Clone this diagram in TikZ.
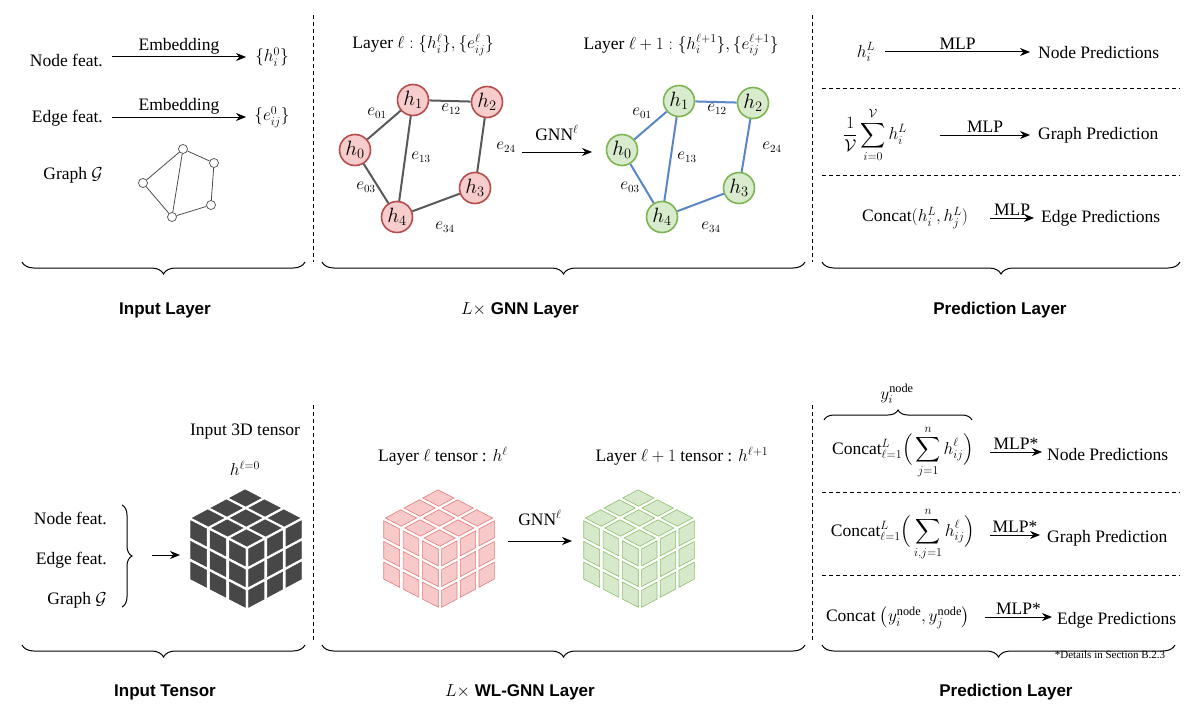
\documentclass[tikz,border=0pt]{standalone}
\usepackage{amsmath,amssymb}
\usepackage{fontspec}
\setmainfont{Liberation Serif}
\setsansfont{Liberation Sans}
\usetikzlibrary{decorations.pathreplacing,arrows.meta}
\definecolor{rfill}{HTML}{F6CCCC}\definecolor{rline}{HTML}{B84C4C}
\definecolor{gfill}{HTML}{D8EBCD}\definecolor{gline}{HTML}{7CB552}
\definecolor{bl}{HTML}{5B86C5}
\definecolor{cred}{HTML}{F8C9C9}\definecolor{credl}{HTML}{E27C7C}
\definecolor{cgr}{HTML}{D6EACB}\definecolor{cgrl}{HTML}{8CBF69}
\newcommand{\mycube}[4]{% x y fill draw
 \begin{scope}[shift={(#1,#2)}]
  \begin{scope}[x={(-19.33pt,10pt)},y={(0pt,-20.67pt)}]
   \foreach \i in {0,1,2}{\foreach \j in {0,1,2}{
    \filldraw[fill=#3,draw=#4,line width=0.6pt] (\i+.09,\j+.09)--(\i+.91,\j+.09)--(\i+.91,\j+.91)--(\i+.09,\j+.91)--cycle;}}
  \end{scope}
  \begin{scope}[x={(18.67pt,10pt)},y={(0pt,-20.67pt)}]
   \foreach \i in {0,1,2}{\foreach \j in {0,1,2}{
    \filldraw[fill=#3,draw=#4,line width=0.6pt] (\i+.09,\j+.09)--(\i+.91,\j+.09)--(\i+.91,\j+.91)--(\i+.09,\j+.91)--cycle;}}
  \end{scope}
  \begin{scope}[x={(-19.33pt,10pt)},y={(18.67pt,10pt)}]
   \foreach \i in {0,1,2}{\foreach \j in {0,1,2}{
    \filldraw[fill=#3,draw=#4,line width=0.6pt] (\i+.09,\j+.09)--(\i+.91,\j+.09)--(\i+.91,\j+.91)--(\i+.09,\j+.91)--cycle;}}
  \end{scope}
 \end{scope}}
\begin{document}
\begin{tikzpicture}[x=1pt,y=-1pt,
 t/.style={font=\fontsize{17.5}{20}\selectfont,inner sep=1pt},
 lab/.style={font=\sffamily\bfseries\fontsize{17}{20}\selectfont},
 arr/.style={-{Stealth[length=10pt,width=8pt]},line width=1pt},
 dsh/.style={dashed,line width=0.9pt,dash pattern=on 4pt off 3pt},
 br/.style={decorate,decoration={brace,amplitude=12pt,mirror},line width=1pt},
 rn/.style={circle,draw=rline,fill=rfill,line width=1.6pt,minimum size=31pt,inner sep=0pt,font=\fontsize{21}{21}\selectfont},
 gn/.style={circle,draw=gline,fill=gfill,line width=1.6pt,minimum size=31pt,inner sep=0pt,font=\fontsize{21}{21}\selectfont},
 el/.style={font=\fontsize{16}{16}\selectfont,inner sep=1pt},
 sg/.style={circle,draw=black!70,fill=white,minimum size=9pt,inner sep=0pt,line width=0.7pt}]
\useasboundingbox (0,0) rectangle (1200,709);
\fill[white] (0,0) rectangle (1200,709);
% ---------- top: input
\node[t,anchor=east] (nf) at (104,60) {Node feat.};
\node[t] (h0) at (272,57) {$\{h_i^0\}$};
\draw[arr] (112,57) -- (246,57) node[midway,above=1pt,t] {Embedding};
\node[t,anchor=east] (ef) at (104,118) {Edge feat.};
\node[t] (e0) at (272,117) {$\{e_{ij}^0\}$};
\draw[arr] (112,117) -- (246,117) node[midway,above=1pt,t] {Embedding};
\node[t,anchor=east] (gg) at (104,175) {Graph $\mathcal{G}$};
\node[sg] (s1) at (183,149) {}; \node[sg] (s0) at (143,183) {};
\node[sg] (s4) at (172,217) {}; \node[sg] (s3) at (211,205) {};
\node[sg] (s2) at (214,163) {};
\draw[black!70,line width=0.8pt] (s0)--(s1)--(s2)--(s3)--(s4)--(s0) (s1)--(s4);
\draw[dsh] (313,15)--(313,262); \draw[dsh] (812,15)--(812,262);
\draw[br] (22,262)--(305,262); \draw[br] (322,262)--(805,262); \draw[br] (822,262)--(1180,262);
\node[lab] at (165,310) {Input Layer};
\node[lab] at (520,310) {$L\times$ GNN Layer};
\node[lab] at (1000,310) {Prediction Layer};
% ---------- GNN layer
\node[t] at (423,45) {Layer $\ell:\{h_i^\ell\},\{e_{ij}^\ell\}$};
\node[t] at (681,45) {Layer $\ell+1:\{h_i^{\ell+1}\},\{e_{ij}^{\ell+1}\}$};
\node[rn] (r1) at (413,100) {$h_1$}; \node[rn] (r2) at (487,102) {$h_2$};
\node[rn] (r0) at (355,150) {$h_0$}; \node[rn] (r3) at (475,188) {$h_3$};
\node[rn] (r4) at (397,217) {$h_4$};
\draw[black!65,line width=2pt] (r0)--(r1)--(r2)--(r3)--(r4)--(r0) (r1)--(r4);
\node[el] at (377,113) {$e_{01}$}; \node[el] at (451,109) {$e_{12}$};
\node[el] at (421,157) {$e_{13}$}; \node[el] at (506,147) {$e_{24}$};
\node[el] at (366,187) {$e_{03}$}; \node[el] at (445,227) {$e_{34}$};
\node[gn] (g1) at (679,101) {$h_1$}; \node[gn] (g2) at (753,103) {$h_2$};
\node[gn] (g0) at (622,150) {$h_0$}; \node[gn] (g3) at (739,188) {$h_3$};
\node[gn] (g4) at (662,217) {$h_4$};
\draw[bl,line width=2pt] (g0)--(g1)--(g2)--(g3)--(g4)--(g0) (g1)--(g4);
\node[el] at (642,113) {$e_{01}$}; \node[el] at (717,109) {$e_{12}$};
\node[el] at (687,157) {$e_{13}$}; \node[el] at (772,147) {$e_{24}$};
\node[el] at (630,187) {$e_{03}$}; \node[el] at (711,227) {$e_{34}$};
\coordinate (ga) at (522,152); \coordinate (gb) at (592,152);
\draw[arr] (ga) -- (gb);
\node[t] at (557,133) {GNN$^\ell$};
% ---------- prediction top
\node[t] (hl) at (866,52) {$h_i^L$};
\node[t,anchor=west] (np) at (1037,53) {Node Predictions};
\draw[arr] (885,52) -- (1030,52) node[midway,above=1pt,t] {MLP};
\draw[dsh] (822,88)--(1180,88);
\node[t] (sm) at (875,135) {$\dfrac{1}{\mathcal{V}}\displaystyle\sum_{i=0}^{\mathcal{V}} h_i^L$};
\node[t,anchor=west] (gp) at (1037,135) {Graph Prediction};
\draw[arr] (940,135) -- (1030,135) node[midway,above=1pt,t] {MLP};
\draw[dsh] (822,175)--(1180,175);
\node[t] (cc) at (915,218) {Concat$(h_i^L,h_j^L)$};
\node[t,anchor=west] (ep) at (1040,218) {Edge Predictions};
\draw[arr] (990,218) -- (1034,218) node[midway,above=1pt,t] {MLP};
% ---------- bottom: input tensor
\node[t] at (245,432) {Input 3D tensor};
\node[t] at (245,468) {$h^{\ell=0}$};
\mycube{247}{548}{black!72}{black!72}
\node[t,anchor=east] (nf2) at (108,518) {Node feat.};
\node[t,anchor=east] (ef2) at (108,560) {Edge feat.};
\node[t,anchor=east] (gg2) at (108,600) {Graph $\mathcal{G}$};
\draw[decorate,decoration={brace,amplitude=10pt},line width=1pt] (122,505)--(122,607);
\draw[arr] (152,555)--(180,555);
\draw[dsh] (313,405)--(313,640); \draw[dsh] (812,405)--(812,640);
\draw[br] (22,645)--(305,645); \draw[br] (322,645)--(805,645); \draw[br] (822,645)--(1175,645);
\node[lab] at (165,692) {Input Tensor};
\node[lab] at (520,692) {$L\times$ WL-GNN Layer};
\node[lab] at (1006,692) {Prediction Layer};
% ---------- WL-GNN
\node[t] at (443,456) {Layer $\ell$ tensor : $h^\ell$};
\node[t] at (682,456) {Layer $\ell+1$ tensor : $h^{\ell+1}$};
\mycube{440}{548}{cred}{credl}
\mycube{640}{548}{cgr}{cgrl}
\draw[arr] (508,541)--(572,541);
\node[t] at (540,518) {GNN$^\ell$};
% ---------- prediction bottom
\draw[decorate,decoration={brace,amplitude=10pt},line width=1pt] (824,420)--(972,420);
\node[t] at (897,394) {$y_i^{\text{node}}$};
\node[t] (c1) at (903,452) {Concat$_{\ell=1}^{L}\Big(\displaystyle\sum_{j=1}^{n} h_{ij}^\ell\Big)$};
\node[t,anchor=west] (np2) at (1046,455) {Node Predictions};
\draw[arr] (990,452) -- (1042,452) node[midway,above=1pt,t] {MLP*};
\draw[dsh] (822,492)--(1180,492);
\node[t] (c2) at (903,534) {Concat$_{\ell=1}^{L}\Big(\displaystyle\sum_{i,j=1}^{n} h_{ij}^\ell\Big)$};
\node[t,anchor=west] (gp2) at (1046,538) {Graph Prediction};
\draw[arr] (990,535) -- (1040,535) node[midway,above=1pt,t] {MLP*};
\draw[dsh] (822,575)--(1180,575);
\node[t] (c3) at (898,618) {Concat $\big(y_i^{\text{node}},y_j^{\text{node}}\big)$};
\node[t,anchor=west] (ep2) at (1056,620) {Edge Predictions};
\draw[arr] (985,617) -- (1052,617) node[midway,above=1pt,t] {MLP*};
\node[font=\fontsize{11}{13}\selectfont] at (1110,655) {*Details in Section B.2.3};
\end{tikzpicture}
\end{document}
